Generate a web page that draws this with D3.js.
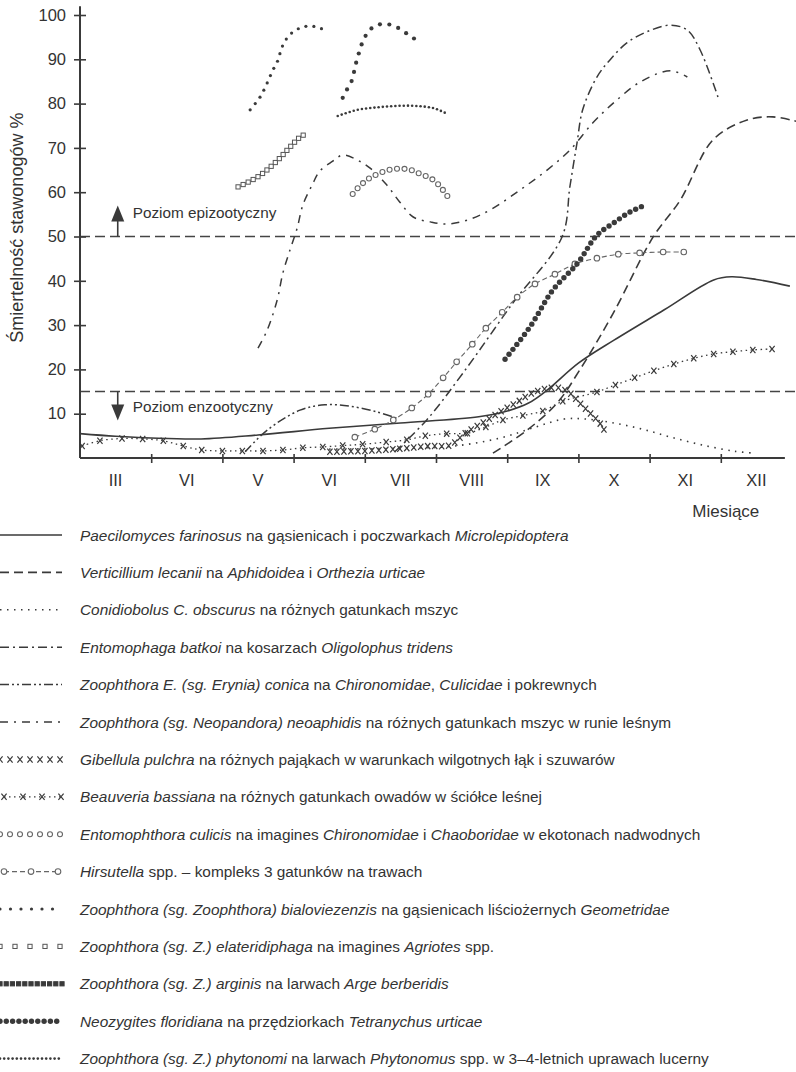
<!DOCTYPE html>
<html><head><meta charset="utf-8">
<script src="https://cdn.jsdelivr.net/npm/d3@7"></script>
<style>body{margin:0;background:#fff}svg{display:block;font-family:"Liberation Sans",Arial,Helvetica,sans-serif}</style>
</head><body><svg id="c" width="796" height="1072"></svg>
<script>
// ---------- DATA (month units: 0 = start of first month column; value = %) ----------
const months = ["III","VI","V","VI","VII","VIII","IX","X","XI","XII"];
const monthTicks = [1,2,3,4,5,6,7,8,9];
const yTicks = [10,20,30,40,50,60,70,80,90,100];
const levelEpizootic = 50, levelEnzootic = 15;

const paecilomyces = [[0,5.5],[0.5,4.9],[1,4.5],[1.7,4.3],[2.5,5.2],[3.5,6.7],[4.5,7.9],[5.6,9.3],[6.0,10.6],[6.3,12.4],[6.56,15.3],[7.0,21.4],[7.5,26.6],[8.2,33.4],[8.9,40.2],[9.15,40.9],[9.5,40.3],[9.97,38.8]];
const verticillium = [[5.8,1.1],[6.28,6.3],[6.7,12.4],[7.02,19.9],[7.49,32.7],[8.05,49.9],[8.43,58.2],[8.89,71.8],[9.37,76.3],[9.73,77],[10.06,76]];
const conidiobolus = [[3.5,2.0],[4.5,2.2],[5.2,2.6],[5.9,4.5],[6.4,7.0],[6.8,8.8],[7.1,8.8],[7.5,7.9],[7.9,6.5],[8.3,4.7],[8.75,2.9],[9.2,1.5],[9.48,1.1]];
const entomophaga = [[4.42,1.4],[4.87,8.6],[5.38,19.2],[6.08,35],[6.77,49.9],[6.88,61.2],[6.98,71.1],[7.06,78.6],[7.26,86],[7.44,89.8],[7.68,93.7],[7.96,96.2],[8.29,97.7],[8.53,96.6],[8.71,92.1],[8.96,81.5]];
const conica = [[2.32,1.4],[2.63,6.3],[3.09,10.8],[3.44,12],[3.79,11.7],[4.17,10.4],[4.45,9]];
const neoaphidis = [[2.5,24.8],[2.63,28.9],[2.77,35.7],[2.85,41.8],[2.95,47],[3.05,51.9],[3.13,57.1],[3.26,61.6],[3.37,64.8],[3.55,67],[3.69,68.4],[3.89,67.3],[4.07,65.5],[4.31,61.6],[4.49,57.8],[4.68,54.4],[4.92,53.3],[5.15,52.8],[5.44,53.7],[5.76,56],[6.18,60.5],[6.56,65],[6.88,69.5],[7.2,75.6],[7.49,80.1],[7.87,84.9],[8.29,87.4],[8.53,86]];
const gibellula = [[3.51,1.4],[4.0,1.6],[4.5,2.1],[4.9,2.7],[5.2,2.9],[5.41,5.6],[5.65,7.9],[5.9,10.4],[6.14,12.6],[6.36,14.7],[6.6,15.8],[6.74,15.8],[6.88,14.7],[7.02,12.4],[7.16,10.2],[7.3,7.9],[7.4,5.2]];
const beauveria = [[0.03,2.7],[0.28,3.9],[0.59,4.4],[0.88,4.3],[1.17,3.9],[1.45,2.7],[1.71,1.8],[2.0,1.6],[2.28,1.6],[2.57,1.6],[2.85,1.8],[3.13,2.3],[3.41,2.5],[3.69,2.8],[3.97,3.1],[4.3,3.6],[4.59,4.1],[4.85,5.0],[5.15,5.5],[5.44,5.6],[5.7,7.0],[5.94,8.6],[6.22,9.6],[6.5,10.6],[6.78,12.8],[7.26,14.9],[7.52,16.5],[7.79,18.1],[8.06,19.7],[8.34,21.2],[8.62,22.5],[8.9,23.5],[9.17,24.0],[9.45,24.4],[9.72,24.6]];
const culicis = [[3.83,59.6],[3.93,61.4],[4.07,63.2],[4.21,64.3],[4.33,65],[4.47,65.3],[4.63,65.1],[4.78,64.1],[4.92,63.2],[5.03,61.8],[5.13,59.8],[5.2,58.2]];
const hirsutella = [[3.86,4.7],[4.14,6.5],[4.4,8.6],[4.66,11.3],[4.89,14.4],[5.1,18.1],[5.29,21.7],[5.51,25.7],[5.7,29.3],[5.93,32.9],[6.14,36.3],[6.39,39.3],[6.67,41.5],[6.95,43.8],[7.26,45.1],[7.56,46.0],[7.86,46.3],[8.19,46.5],[8.48,46.5]];
const bialoviezenzis = [[2.39,78.6],[2.53,81.5],[2.63,84.7],[2.71,87.6],[2.77,89.4],[2.85,93.2],[2.95,95.6],[3.13,97.3],[3.33,97.3],[3.47,96.2]];
const elateridiphaga = [[2.22,61.2],[2.5,63.5],[2.75,66.8],[2.95,70.2],[3.08,72.3],[3.16,73.1]];
const arginis = [[3.69,81.3],[3.76,83.5],[3.82,85.3],[3.86,88],[3.9,90.5],[4.0,95],[4.12,97.3],[4.28,98],[4.44,97.3],[4.58,95.9],[4.7,94.6]];
const neozygites = [[5.97,22.3],[6.32,29.6],[6.64,37.9],[6.99,44],[7.26,50.3],[7.49,53],[7.72,55.5],[7.91,56.9]];
const phytonomi = [[3.62,77.2],[3.9,78.6],[4.21,79.2],[4.49,79.5],[4.68,79.5],[4.96,79],[5.13,77.9]];

const legendLabels = [
 [["Paecilomyces farinosus",1],[" na gąsienicach i poczwarkach ",0],["Microlepidoptera",1]],
 [["Verticillium lecanii",1],[" na ",0],["Aphidoidea",1],[" i ",0],["Orthezia urticae",1]],
 [["Conidiobolus C. obscurus",1],[" na różnych gatunkach mszyc",0]],
 [["Entomophaga batkoi",1],[" na kosarzach ",0],["Oligolophus tridens",1]],
 [["Zoophthora E. (sg. Erynia) conica",1],[" na ",0],["Chironomidae",1],[", ",0],["Culicidae",1],[" i pokrewnych",0]],
 [["Zoophthora (sg. Neopandora) neoaphidis",1],[" na różnych gatunkach mszyc w runie leśnym",0]],
 [["Gibellula pulchra",1],[" na różnych pająkach w warunkach wilgotnych łąk i szuwarów",0]],
 [["Beauveria bassiana",1],[" na różnych gatunkach owadów w ściółce leśnej",0]],
 [["Entomophthora culicis",1],[" na imagines ",0],["Chironomidae",1],[" i ",0],["Chaoboridae",1],[" w ekotonach nadwodnych",0]],
 [["Hirsutella",1],[" spp. – kompleks 3 gatunków na trawach",0]],
 [["Zoophthora (sg. Zoophthora) bialoviezenzis",1],[" na gąsienicach liściożernych ",0],["Geometridae",1]],
 [["Zoophthora (sg. Z.) elateridiphaga",1],[" na imagines ",0],["Agriotes",1],[" spp.",0]],
 [["Zoophthora (sg. Z.) arginis",1],[" na larwach ",0],["Arge berberidis",1]],
 [["Neozygites floridiana",1],[" na przędziorkach ",0],["Tetranychus urticae",1]],
 [["Zoophthora (sg. Z.) phytonomi",1],[" na larwach ",0],["Phytonomus",1],[" spp. w 3–4-letnich uprawach lucerny",0]]
];

// ---------- STYLES ----------
const INK = "#3a3a3a";
const styles = [
 {kind:"line", dash:null, w:1.6},
 {kind:"line", dash:"9,5", w:1.6},
 {kind:"line", dash:"1.5,5.5", w:1.6},
 {kind:"line", dash:"9,4,2,4", w:1.5},
 {kind:"line", dash:"9,3,2,3,2,3", w:1.5},
 {kind:"line", dash:"8,6,2,6", w:1.5},
 {kind:"xs", spacing:7, size:2.6},
 {kind:"xline", size:2.6},
 {kind:"circles", spacing:7.5, r:2.5},
 {kind:"oline", r:2.8},
 {kind:"dots", spacing:8, r:1.6},
 {kind:"squares", spacing:5.6, s:4.2},
 {kind:"dots", spacing:9.5, r:2.1},
 {kind:"dots", spacing:6.3, r:2.7},
 {kind:"dots", spacing:4.2, r:1.3}
];
const seriesList = [paecilomyces, verticillium, conidiobolus, entomophaga, conica, neoaphidis, gibellula, beauveria, culicis, hirsutella, bialoviezenzis, elateridiphaga, arginis, neozygites, phytonomi];

// ---------- CHART ----------
const svg = d3.select("#c");
const x = d3.scaleLinear().domain([0,10]).range([80,792]);
const y = d3.scaleLinear().domain([0,100]).range([458,15]);
const line = d3.line().x(d=>x(d[0])).y(d=>y(d[1])).curve(d3.curveCatmullRom.alpha(0.5));

// threshold lines
svg.selectAll("line.lvl").data([levelEpizootic, levelEnzootic]).join("line")
  .attr("x1", x(0)).attr("x2", 796).attr("y1", d=>y(d)).attr("y2", d=>y(d))
  .attr("stroke", "#444").attr("stroke-width", 1.6).attr("stroke-dasharray", "10,5");

// axes
const gy = svg.append("g").attr("transform", `translate(${x(0)},0)`)
  .call(d3.axisLeft(y).tickValues(yTicks).tickSizeInner(6).tickSizeOuter(0).tickPadding(8));
gy.select(".domain").remove();
gy.selectAll(".tick line").attr("x1", 6).attr("stroke", INK).attr("stroke-width", 1.6);
gy.selectAll(".tick text").attr("font-size", 16.5).attr("fill", "#333").attr("font-family", null);
svg.append("line").attr("x1", x(0)).attr("x2", x(0)).attr("y1", y(0)).attr("y2", y(102))
  .attr("stroke", INK).attr("stroke-width", 2);

const gx = svg.append("g").attr("transform", `translate(0,${y(0)})`)
  .call(d3.axisBottom(x).tickValues(monthTicks).tickFormat("").tickSizeInner(5).tickSizeOuter(0));
gx.select(".domain").remove();
gx.selectAll(".tick line").attr("y1", -4).attr("stroke", INK).attr("stroke-width", 1.6);
svg.append("line").attr("x1", x(0)).attr("x2", x(9.9)).attr("y1", y(0)).attr("y2", y(0))
  .attr("stroke", INK).attr("stroke-width", 2);
svg.selectAll("text.mon").data(months).join("text")
  .attr("x", (d,i)=>x(i+0.5)).attr("y", y(0)+28).attr("text-anchor","middle")
  .attr("font-size", 16.5).attr("fill","#333").text(d=>d);
svg.append("text").attr("x", x(9.07)).attr("y", y(0)+59).attr("text-anchor","middle")
  .attr("font-size", 17).attr("fill","#333").text("Miesiące");
svg.append("text").attr("transform", `translate(23,${y(52)}) rotate(-90)`).attr("text-anchor","middle")
  .attr("font-size", 18).attr("fill","#333").text("Śmiertelność stawonogów %");

// level arrows + labels
const ax = x(0.53);
svg.append("line").attr("x1",ax).attr("x2",ax).attr("y1",y(levelEpizootic)).attr("y2",y(levelEpizootic)-18).attr("stroke",INK).attr("stroke-width",1.6);
svg.append("path").attr("d",`M${ax-6.5},${y(levelEpizootic)-15}L${ax},${y(levelEpizootic)-31}L${ax+6.5},${y(levelEpizootic)-15}Z`).attr("fill",INK);
svg.append("text").attr("x",ax+15).attr("y",y(levelEpizootic)-19).attr("font-size",15.3).attr("fill","#333").text("Poziom epizootyczny");
svg.append("line").attr("x1",ax).attr("x2",ax).attr("y1",y(levelEnzootic)).attr("y2",y(levelEnzootic)+16).attr("stroke",INK).attr("stroke-width",1.6);
svg.append("path").attr("d",`M${ax-6.5},${y(levelEnzootic)+13}L${ax},${y(levelEnzootic)+29}L${ax+6.5},${y(levelEnzootic)+13}Z`).attr("fill",INK);
svg.append("text").attr("x",ax+15).attr("y",y(levelEnzootic)+20).attr("font-size",15.3).attr("fill","#333").text("Poziom enzootyczny");

// helpers
function samplePath(d, spacing){
  const p = svg.append("path").attr("d", d).attr("fill","none");
  const L = p.node().getTotalLength(); const pts = [];
  for(let s=0; s<=L+0.01; s+=spacing){ const q = p.node().getPointAtLength(Math.min(s,L)); pts.push([q.x,q.y]); }
  p.remove(); return pts;
}
function drawX(g, pts, s){
  g.selectAll(null).data(pts).join("path")
   .attr("d", d=>`M${d[0]-s},${d[1]-s*1.2}L${d[0]+s},${d[1]+s*1.2}M${d[0]+s},${d[1]-s*1.2}L${d[0]-s},${d[1]+s*1.2}`)
   .attr("stroke", INK).attr("stroke-width", 1.2).attr("fill","none");
}
function drawCircles(g, pts, r){
  g.selectAll(null).data(pts).join("circle").attr("cx",d=>d[0]).attr("cy",d=>d[1]).attr("r",r)
   .attr("fill","#fff").attr("stroke","#666").attr("stroke-width",1.1);
}
function drawDots(g, pts, r){
  g.selectAll(null).data(pts).join("circle").attr("cx",d=>d[0]).attr("cy",d=>d[1]).attr("r",r).attr("fill",INK);
}
function drawSquares(g, pts, s){
  g.selectAll(null).data(pts).join("rect").attr("x",d=>d[0]-s/2).attr("y",d=>d[1]-s/2).attr("width",s).attr("height",s)
   .attr("fill","#fff").attr("stroke","#555").attr("stroke-width",1);
}
function render(g, st, d, vertices){
  if(st.kind==="line"){
    g.append("path").attr("d", d).attr("fill","none").attr("stroke",INK).attr("stroke-width",st.w)
     .attr("stroke-dasharray", st.dash);
  } else if(st.kind==="xs"){ drawX(g, samplePath(d, st.spacing), st.size); }
  else if(st.kind==="xline"){
    g.append("path").attr("d", d).attr("fill","none").attr("stroke",INK).attr("stroke-width",1.3).attr("stroke-dasharray","1.5,3.5");
    drawX(g, vertices, st.size);
  } else if(st.kind==="circles"){ drawCircles(g, samplePath(d, st.spacing), st.r); }
  else if(st.kind==="oline"){
    g.append("path").attr("d", d).attr("fill","none").attr("stroke","#666").attr("stroke-width",1.1).attr("stroke-dasharray","5,3");
    drawCircles(g, vertices, st.r);
  } else if(st.kind==="dots"){ drawDots(g, samplePath(d, st.spacing), st.r); }
  else if(st.kind==="squares"){ drawSquares(g, samplePath(d, st.spacing), st.s); }
}

const plot = svg.append("g");
seriesList.forEach((data,i)=>{
  const g = plot.append("g");
  render(g, styles[i], line(data), data.map(p=>[x(p[0]),y(p[1])]));
});

// ---------- LEGEND ----------
const ly = d3.scaleLinear().domain([0,14]).range([535,1058.6]);
const leg = svg.append("g");
legendLabels.forEach((segs,i)=>{
  const cy = ly(i);
  const g = leg.append("g");
  const st = styles[i];
  const hd = `M0,${cy}L62,${cy}`;
  let verts = [];
  if(st.kind==="xline") verts = d3.range(5).map(k=>[4+k*19, cy]).filter(p=>p[0]<=64);
  if(st.kind==="oline") verts = d3.range(3).map(k=>[4+k*27, cy]);
  const legSt = Object.assign({}, st);
  if(st.kind==="xs") legSt.spacing = 10;
  if(st.kind==="circles") legSt.spacing = 10;
  if(st.kind==="dots" && i===10) legSt.spacing = 10.5;
  if(st.kind==="squares") legSt.spacing = 15;
  if(st.kind==="dots" && i===12) { legSt.spacing = 6; }
  render(g, legSt, st.kind==="xline"?`M4,${cy}L62,${cy}`:(st.kind==="oline"?`M4,${cy}L58,${cy}`:hd), verts);
  if(i===12){ g.selectAll("circle").remove(); drawSquares(g, samplePath(hd,6.2), 4.2); g.selectAll("rect").attr("fill",INK).attr("stroke",INK); }
  const t = leg.append("text").attr("x",80).attr("y",cy+5.5).attr("font-size",15.4).attr("fill","#333");
  segs.forEach(s=>t.append("tspan").attr("font-style", s[1]?"italic":"normal").text(s[0]));
});
</script></body></html>
